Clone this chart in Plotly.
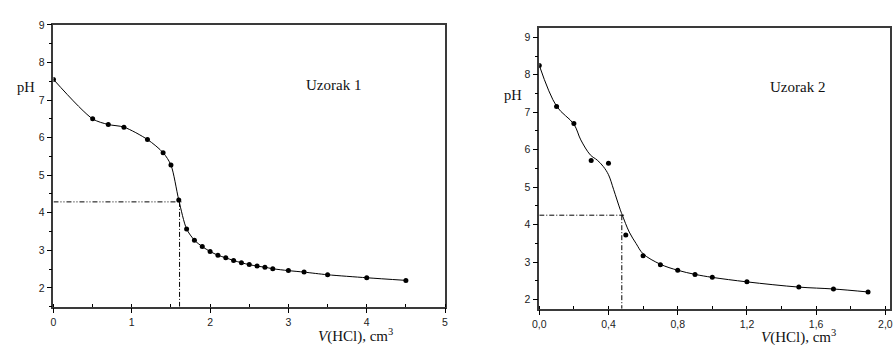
import plotly.graph_objects as go

# Sample 1: titration data
v1 = [0.0, 0.5, 0.7, 0.9, 1.2, 1.4, 1.5, 1.6, 1.7, 1.8, 1.9, 2.0, 2.1, 2.2, 2.3,
      2.4, 2.5, 2.6, 2.7, 2.8, 3.0, 3.2, 3.5, 4.0, 4.5]
ph1 = [7.55, 6.50, 6.35, 6.28, 5.95, 5.60, 5.27, 4.34, 3.57, 3.27, 3.10, 2.97, 2.87,
       2.80, 2.73, 2.67, 2.62, 2.58, 2.55, 2.51, 2.46, 2.42, 2.35, 2.27, 2.20]
eq1_v, eq1_ph, eq1_hend = 1.61, 4.29, 1.65

# Sample 2: titration data
v2 = [0.0, 0.1, 0.2, 0.3, 0.4, 0.5, 0.6, 0.7, 0.8, 0.9, 1.0, 1.2, 1.5, 1.7, 1.9]
ph2 = [8.25, 7.15, 6.70, 5.71, 5.64, 3.72, 3.17, 2.93, 2.78, 2.67, 2.59, 2.47,
       2.33, 2.28, 2.20]
# Smoothed titration curve for sample 2
fit2_v = [0.0, 0.1, 0.2, 0.24, 0.295, 0.335, 0.37, 0.40, 0.43, 0.467, 0.48, 0.52,
          0.56, 0.6, 0.7, 0.8, 0.9, 1.0, 1.2, 1.5, 1.7, 1.9]
fit2_ph = [8.25, 7.16, 6.68, 6.26, 5.86, 5.72, 5.55, 5.33, 4.93, 4.41, 4.25, 3.80,
           3.49, 3.22, 2.94, 2.78, 2.67, 2.59, 2.47, 2.33, 2.28, 2.20]
eq2_v, eq2_ph, eq2_hend = 0.477, 4.25, 0.49

W, H = 893, 345
ink = "#000000"
frame = "#3a3a3a"

fig = go.Figure()

# Sample 1
fig.add_trace(go.Scatter(x=v1, y=ph1, mode="lines", line=dict(color=ink, width=1, shape="spline", smoothing=0.8),
                         xaxis="x", yaxis="y", hoverinfo="skip"))
fig.add_trace(go.Scatter(x=v1, y=ph1, mode="markers", marker=dict(color=ink, size=5),
                         xaxis="x", yaxis="y"))
fig.add_trace(go.Scatter(x=[0, eq1_hend], y=[eq1_ph, eq1_ph], mode="lines",
                         line=dict(color=ink, width=1, dash="5px,2px,1px,2px,1px,2px"),
                         xaxis="x", yaxis="y"))
fig.add_trace(go.Scatter(x=[eq1_v, eq1_v], y=[eq1_ph, 1.5], mode="lines",
                         line=dict(color=ink, width=1, dash="5px,2px,1px,2px"),
                         xaxis="x", yaxis="y"))

# Sample 2
fig.add_trace(go.Scatter(x=fit2_v, y=fit2_ph, mode="lines", line=dict(color=ink, width=1, shape="spline", smoothing=1.0),
                         xaxis="x2", yaxis="y2", hoverinfo="skip"))
fig.add_trace(go.Scatter(x=v2, y=ph2, mode="markers", marker=dict(color=ink, size=5),
                         xaxis="x2", yaxis="y2"))
fig.add_trace(go.Scatter(x=[0, eq2_hend], y=[eq2_ph, eq2_ph], mode="lines",
                         line=dict(color=ink, width=1, dash="5px,2px,1px,2px"),
                         xaxis="x2", yaxis="y2"))
fig.add_trace(go.Scatter(x=[eq2_v, eq2_v], y=[eq2_ph, 1.75], mode="lines",
                         line=dict(color=ink, width=1, dash="5px,2px,1px,2px"),
                         xaxis="x2", yaxis="y2"))

tickfont = dict(family="Liberation Sans, Arial, sans-serif", size=10.5, color="#222")
serif = "Liberation Serif, Times New Roman, serif"

def axis_common(**kw):
    d = dict(showgrid=False, zeroline=False, showline=True, linecolor=frame, linewidth=1.5,
             mirror=True, ticks="outside", ticklen=5, tickwidth=1, tickcolor=ink,
             tickfont=tickfont, fixedrange=True)
    d.update(kw)
    return d

fig.update_layout(
    width=W, height=H,
    margin=dict(l=0, r=0, t=0, b=0),
    paper_bgcolor="white", plot_bgcolor="white",
    showlegend=False,
    separators=",.",
    xaxis=axis_common(domain=[47 / W, 443 / W], range=[0, 5], dtick=1, tick0=0,
                      minor=dict(dtick=0.5, ticks="inside", ticklen=3, tickcolor=ink),
                      anchor="y"),
    yaxis=axis_common(domain=[(H - 306) / H, (H - 19.3) / H], range=[1.5, 9], dtick=1, tick0=0,
                      minor=dict(dtick=0.5, ticks="outside", ticklen=3, tickcolor=ink),
                      anchor="x"),
    xaxis2=axis_common(domain=[538.3 / W, 1.0], range=[0, (W - 538.3) / 175.0], dtick=0.4, tick0=0,
                       tickformat=".1f",
                       minor=dict(dtick=0.2, ticks="inside", ticklen=3, tickcolor=ink),
                       anchor="y2"),
    yaxis2=axis_common(domain=[(H - 308) / H, (H - 22.7) / H], range=[1.755, 9.24], dtick=1, tick0=0,
                       minor=dict(dtick=0.5, ticks="outside", ticklen=3, tickcolor=ink),
                       anchor="x2"),
)

annots = [
    dict(text="Uzorak 1", x=3.58, y=7.39, xref="x", yref="y", size=15),
    dict(text="Uzorak 2", x=1.49, y=7.66, xref="x2", yref="y2", size=15),
    dict(text="pH", x=19 / W, y=(H - 82) / H, xref="paper", yref="paper", size=14.5),
    dict(text="pH", x=511.7 / W, y=(H - 91) / H, xref="paper", yref="paper", size=14.5),
    dict(text="<i>V</i>(HCl), cm<sup>3</sup>", x=352 / W, y=(H - 335) / H, xref="paper", yref="paper", size=15),
    dict(text="<i>V</i>(HCl), cm<sup>3</sup>", x=800 / W, y=(H - 336) / H, xref="paper", yref="paper", size=15),
]
for a in annots:
    size = a.pop("size")
    fig.add_annotation(showarrow=False, font=dict(family=serif, size=size, color="#111"),
                       xanchor="center", yanchor="middle", **a)

fig.write_html("out.html")
